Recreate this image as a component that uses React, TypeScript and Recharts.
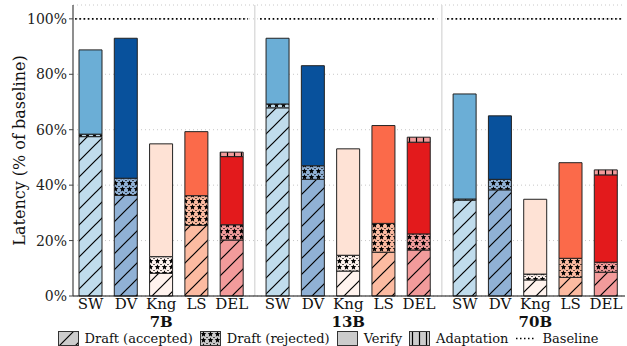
import React from 'react';
import {
  BarChart,
  Bar,
  XAxis,
  YAxis,
  CartesianGrid,
  Legend,
  ReferenceLine,
  Cell,
} from 'recharts';

const groups = ['7B', '13B', '70B'];
const methods = ['SW', 'DV', 'Kng', 'LS', 'DEL'];

// % of baseline latency, per group, per method
const accepted = [
  [57.5, 36.3, 8.2, 25.5, 20.2],
  [67.9, 42.1, 9.0, 15.8, 16.6],
  [34.6, 38.3, 5.8, 6.7, 8.6],
];
const rejected = [
  [0.9, 6.2, 6.0, 10.7, 5.5],
  [1.4, 4.9, 5.7, 10.4, 5.8],
  [0.4, 3.8, 2.1, 6.9, 3.6],
];
const verify = [
  [30.4, 50.5, 40.7, 23.1, 24.6],
  [23.7, 36.1, 38.4, 35.3, 33.1],
  [37.9, 22.9, 27.0, 34.5, 31.5],
];
const adaptation = [
  [0, 0, 0, 0, 1.6],
  [0, 0, 0, 0, 1.8],
  [0, 0, 0, 0, 1.8],
];
const yTicks = [0, 20, 40, 60, 80, 100];

// light (draft) and strong (verify) colour per method
const lightColors = ['#c0dcec', '#90b1d5', '#fff3ee', '#fcbba1', '#f29b9b'];
const darkColors = ['#6baed6', '#08519c', '#fee2d5', '#fb6a4a', '#e31a1c'];

const GROUP_STEP = 5.3;
const FONT = '"DejaVu Serif", serif';

const rows = groups.flatMap((g, gi) =>
  methods.map((m, mi) => ({
    x: gi * GROUP_STEP + mi,
    group: g,
    method: m,
    mi,
    accepted: accepted[gi][mi],
    rejected: rejected[gi][mi],
    verify: verify[gi][mi],
    adaptation: adaptation[gi][mi],
  }))
);
const tickPositions = rows.map((r) => r.x);

const starPath = (cx: number, cy: number, r: number) => {
  const pts: string[] = [];
  for (let k = 0; k < 10; k++) {
    const rad = k % 2 === 0 ? r : r * 0.45;
    const a = -Math.PI / 2 + (k * Math.PI) / 5;
    pts.push(`${(cx + rad * Math.cos(a)).toFixed(2)},${(cy + rad * Math.sin(a)).toFixed(2)}`);
  }
  return `M${pts.join('L')}Z`;
};

const Patterns = ({ prefix, color }: { prefix: string; color: string }) => (
  <>
    <pattern id={`hatch-${prefix}`} patternUnits="userSpaceOnUse" width={16} height={16}>
      <rect width={16} height={16} fill={color} />
      <path d="M0,16 L16,0 M-4,4 L4,-4 M12,20 L20,12" stroke="#000" strokeWidth={1.2} />
    </pattern>
    <pattern id={`star-${prefix}`} patternUnits="userSpaceOnUse" width={7} height={6}>
      <rect width={7} height={6} fill={color} />
      <path d={starPath(3.5, 3.2, 3)} fill="#000" />
      <circle cx={0} cy={0.2} r={0.8} fill="#000" />
      <circle cx={7} cy={0.2} r={0.8} fill="#000" />
    </pattern>
    <pattern id={`vline-${prefix}`} patternUnits="userSpaceOnUse" width={7} height={7}>
      <rect width={7} height={7} fill={color} />
      <path d="M3.5,0 L3.5,7" stroke="#000" strokeWidth={1.2} />
    </pattern>
  </>
);

const MethodTick = (props: any) => {
  const { x, y, payload } = props;
  const row = rows.find((r) => Math.abs(r.x - payload.value) < 1e-6);
  if (!row) return null;
  return (
    <g>
      <text x={x} y={y} dy={13} textAnchor="middle" fontSize={15} fontFamily={FONT} fill="#111">
        {row.method}
      </text>
      {row.mi === 2 && (
        <text x={x} y={y} dy={31} textAnchor="middle" fontSize={15} fontWeight="bold" fontFamily={FONT} fill="#111">
          {row.group}
        </text>
      )}
    </g>
  );
};

const legendItems = [
  { label: 'Draft (accepted)', fill: 'url(#hatch-legend)' },
  { label: 'Draft (rejected)', fill: 'url(#star-legend)' },
  { label: 'Verify', fill: '#cccccc' },
  { label: 'Adaptation', fill: 'url(#vline-legend)' },
  { label: 'Baseline', fill: null },
];

const LegendContent = () => (
  <div
    style={{
      display: 'flex',
      justifyContent: 'center',
      alignItems: 'center',
      paddingLeft: 36,
      paddingTop: 5,
      fontFamily: FONT,
      fontSize: 13,
      color: '#111',
    }}
  >
    {legendItems.map((it) => (
      <div key={it.label} style={{ display: 'flex', alignItems: 'center', marginRight: 7 }}>
        <svg width={21} height={15} style={{ marginRight: 6 }}>
          {it.fill ? (
            <rect x={0.5} y={0.5} width={20} height={14} fill={it.fill} stroke="#333" strokeWidth={1} />
          ) : (
            <line x1={1} y1={7.5} x2={21} y2={7.5} stroke="#000" strokeWidth={1.5} strokeDasharray="1.5 2.5" />
          )}
        </svg>
        <span>{it.label}</span>
      </div>
    ))}
  </div>
);

const YLabel = (props: any) => {
  const { viewBox } = props;
  const cx = viewBox.x + 19;
  const cy = viewBox.y + viewBox.height / 2;
  return (
    <text
      transform={`translate(${cx},${cy}) rotate(-90)`}
      textAnchor="middle"
      dominantBaseline="central"
      fontSize={16}
      fontFamily={FONT}
      fill="#111"
    >
      Latency (% of baseline)
    </text>
  );
};

const baselineSegments = [
  [-0.44, 4.46],
  [4.8, 9.75],
  [10.1, 15.08],
];

export default function App() {
  return (
    <div style={{ position: 'absolute', left: 0, top: 0, background: '#fff' }}>
      <BarChart
        width={627}
        height={346}
        data={rows}
        margin={{ top: 5, right: 2, left: 0, bottom: 0 }}
      >
        <defs>
          {methods.map((m, i) => (
            <Patterns key={m} prefix={m} color={lightColors[i]} />
          ))}
          <Patterns prefix="legend" color="#cccccc" />
        </defs>
        <CartesianGrid vertical={false} horizontal stroke="#c8c8c8" strokeDasharray="1 3" />
        <XAxis
          dataKey="x"
          type="number"
          domain={[-0.5, 15.14]}
          allowDataOverflow
          ticks={tickPositions}
          interval={0}
          tick={<MethodTick />}
          tickLine={false}
          tickSize={0}
          tickMargin={0}
          height={30}
          axisLine={{ stroke: '#111', strokeWidth: 1.2 }}
        />
        <YAxis
          type="number"
          domain={[0, 105]}
          ticks={yTicks}
          interval={0}
          width={73}
          tickFormatter={(v) => `${v}%`}
          tick={{ fontSize: 14, fontFamily: FONT, fill: '#222' }}
          tickSize={4}
          tickMargin={2}
          tickLine={{ stroke: '#444' }}
          axisLine={{ stroke: '#444', strokeWidth: 1.2 }}
          label={<YLabel />}
        />
        <ReferenceLine x={4.65} stroke="#dddddd" strokeWidth={1.5} />
        <ReferenceLine x={9.95} stroke="#dddddd" strokeWidth={1.5} />
        {baselineSegments.map(([a, b], i) => (
          <ReferenceLine
            key={i}
            segment={[
              { x: a, y: 100 },
              { x: b, y: 100 },
            ]}
            stroke="#000"
            strokeWidth={1.6}
            strokeDasharray="1.6 2.6"
          />
        ))}
        <Bar dataKey="accepted" stackId="a" barSize={23} stroke="#222" strokeWidth={1} isAnimationActive={false}>
          {rows.map((r, i) => (
            <Cell key={`acc-${i}`} fill={`url(#hatch-${r.method})`} />
          ))}
        </Bar>
        <Bar dataKey="rejected" stackId="a" barSize={23} stroke="#222" strokeWidth={1} isAnimationActive={false}>
          {rows.map((r, i) => (
            <Cell key={`rej-${i}`} fill={`url(#star-${r.method})`} />
          ))}
        </Bar>
        <Bar dataKey="verify" stackId="a" barSize={23} stroke="#222" strokeWidth={1} isAnimationActive={false}>
          {rows.map((r, i) => (
            <Cell key={`ver-${i}`} fill={darkColors[r.mi]} />
          ))}
        </Bar>
        <Bar dataKey="adaptation" stackId="a" barSize={23} stroke="#222" strokeWidth={1} isAnimationActive={false}>
          {rows.map((r, i) => (
            <Cell key={`ada-${i}`} fill={`url(#vline-${r.method})`} />
          ))}
        </Bar>
        <Legend verticalAlign="bottom" height={20} content={<LegendContent />} wrapperStyle={{ left: 0, width: 627 }} />
      </BarChart>
    </div>
  );
}
